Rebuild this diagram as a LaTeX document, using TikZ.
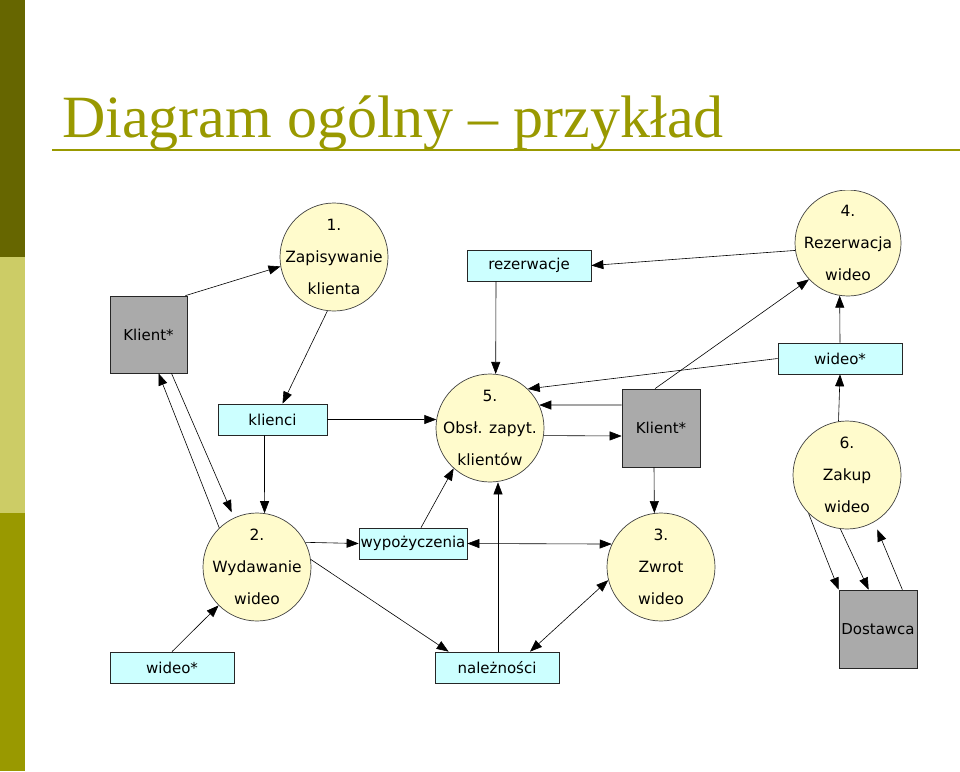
\documentclass[tikz,border=0pt]{standalone}
\usepackage{fontspec}
\setmainfont{Liberation Serif}
\newfontfamily\diafont{DejaVu Sans}
\usepackage{xcolor}
\usetikzlibrary{arrows.meta,positioning}

\definecolor{bardark}{HTML}{666600}
\definecolor{barlight}{HTML}{CCCC66}
\definecolor{barmid}{HTML}{999900}
\definecolor{procfill}{HTML}{FFFBCC}
\definecolor{storefill}{HTML}{CCFFFF}
\definecolor{extfill}{HTML}{AAAAAA}

\begin{document}
\begin{tikzpicture}[
  x=1pt, y=-1pt,
  proc/.style={draw=black!75, line width=0.7pt, circle, fill=procfill, minimum size=108pt, inner sep=-8pt, align=center, font=\diafont\fontsize{15.5}{32}\selectfont},
  store/.style={draw=black!85, line width=0.7pt, fill=storefill, minimum width=124pt, minimum height=31pt, inner sep=1pt, font=\diafont\fontsize{15}{18}\selectfont},
  ext/.style={draw=black!85, line width=0.7pt, fill=extfill, minimum size=77pt, inner sep=1pt, font=\diafont\fontsize{15}{18}\selectfont},
  arr/.style={-{Triangle[length=12pt,width=9pt]}, line width=0.6pt},
  darr/.style={{Triangle[length=12pt,width=9pt]}-{Triangle[length=12pt,width=9pt]}, line width=0.6pt}
]
\useasboundingbox (0,0) rectangle (960,771);
\fill[bardark] (0,0) rectangle (25,257);
\fill[barlight] (0,257) rectangle (25,513);
\fill[barmid] (0,513) rectangle (25,771);

\node[anchor=base west, inner sep=0pt, text=barmid, font=\fontsize{60}{60}\selectfont] (title) at (62,137) {Diagram ogólny – przykład};
\draw[barmid, line width=2.5pt] (52,150) -- (960,150);

\begin{scope}
\clip (30,190) rectangle (960,684);
\node[proc] (p1) at (334,257) {1.\\Zapisywanie\\klienta};
\node[proc] (p2) at (257,567) {2.\\Wydawanie\\wideo};
\node[proc] (p3) at (661,567) {3.\\Zwrot\\wideo};
\node[proc, minimum size=106pt] (p4) at (848,243) {4.\\Rezerwacja\\wideo};
\node[proc] (p5) at (490,428) {5.\\Obsł. zapyt.\\klientów};
\node[proc] (p6) at (847,475) {6.\\Zakup\\wideo};

\node[ext] (klient1) at (148.5,334.5) {Klient*};
\node[ext, minimum size=78pt] (klient2) at (661,428) {Klient*};
\node[ext, minimum size=78pt] (dostawca) at (878,629) {Dostawca};

\node[store, minimum width=109pt] (klienci) at (272.5,419.5) {klienci};
\node[store] (rezerwacje) at (529,265.5) {rezerwacje};
\node[store, minimum width=108pt] (wypozyczenia) at (413,543.5) {wypożyczenia};
\node[store] (wideoR) at (840,358.5) {wideo*};
\node[store] (wideoL) at (172,667.5) {wideo*};
\node[store] (naleznosci) at (497,667.5) {należności};

\draw[arr] ([xshift=-2]klient1.north east) -- (p1.190);
\draw[arr] (p1.263) -- ([xshift=10]klienci.north);
\draw[arr] (klienci.east) -- (p5.171);
\draw[arr] ([xshift=-8]klienci.south) -- (p2.82);
\draw[arr] (p2.134) -- ([xshift=10]klient1.south);
\draw[arr, shorten >=6pt] ([xshift=23]klient1.south) -- (p2.115);
\draw[arr] (wideoL.north) -- (p2.225);
\draw[arr] (p2.27) -- (wypozyczenia.west);
\draw[arr] (p2.8) -- ([xshift=14]naleznosci.north west);
\draw[arr] ([xshift=8]wypozyczenia.north) -- (p5.228);
\draw[darr] (wypozyczenia.east) -- (p3.155);
\draw[arr] ([xshift=1]naleznosci.north) -- ([xshift=1]naleznosci.north |- p5.south);
\draw[darr] ([xshift=33]naleznosci.north) -- (p3.194);
\draw[arr] ([xshift=-33]rezerwacje.south) -- (p5.84);
\draw[arr] (p4.188) -- (rezerwacje.east);
\draw[arr] ([xshift=-6]klient2.north) -- (p4.223);
\draw[arr] (wideoR.west) -- (p5.46);
\draw[arr] ([yshift=23]klient2.west) -- (p5.25);
\draw[arr] (p5.-8) -- ([yshift=-8]klient2.west);
\draw[arr] ([xshift=-7]klient2.south) -- (p3.97);
\draw[arr] (wideoR.north) -- (p4.261);
\draw[arr] (p6.99) -- (wideoR.south);
\draw[arr] (p6.225) -- (dostawca.north west);
\draw[arr] (p6.263) -- ([xshift=30]dostawca.north west);
\draw[arr, shorten >=8pt] ([xshift=-15]dostawca.north east) -- (p6.300);
\end{scope}
\end{tikzpicture}
\end{document}
